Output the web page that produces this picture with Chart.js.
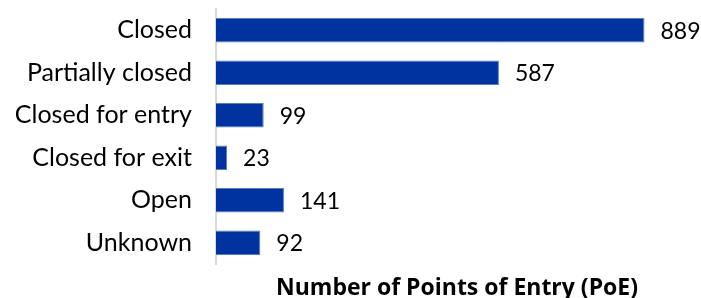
<!DOCTYPE html>
<html>
<head>
<meta charset="utf-8">
<script src="https://cdn.jsdelivr.net/npm/chart.js@4"></script>
<style>
  html, body { margin: 0; padding: 0; background: #fff; }
  #wrap { width: 701px; height: 298px; }
</style>
</head>
<body>
<div id="wrap"><canvas id="myChart"></canvas></div>
<script>
// data
const categories = ['Closed', 'Partially closed', 'Closed for entry', 'Closed for exit', 'Open', 'Unknown'];
const poeCounts = [889, 587, 99, 23, 141, 92];
const axisTitle = 'Number of Points of Entry (PoE)';

// value text next to each bar
const valueLabels = {
    id: 'valueLabels',
    afterDatasetsDraw(chart) {
        const ctx = chart.ctx;
        const meta = chart.getDatasetMeta(0);
        ctx.save();
        ctx.font = "23px Lato, sans-serif";
        ctx.fillStyle = '#000';
        ctx.textBaseline = 'middle';
        ctx.textAlign = 'left';
        meta.data.forEach((bar, i) => {
            ctx.fillText(poeCounts[i], bar.x + 16, bar.y + 1);
        });
        ctx.restore();
    }
};

const config = {
    type: 'bar',
    data: {
        labels: categories,
        datasets: [{
            data: poeCounts,
            backgroundColor: '#0033a0',
            borderColor: '#5a7cc0',
            borderWidth: 1,
            barPercentage: 0.58,
            categoryPercentage: 1,
        }],
    },
    options: {
        indexAxis: 'y',
        responsive: true,
        maintainAspectRatio: false,
        animation: false,
        layout: { padding: { top: 9, right: 3, left: 0, bottom: 0 } },
        plugins: {
            legend: false,
            tooltip: false,
        },
        scales: {
            x: {
                min: 0,
                max: 1000,
                grid: { display: false },
                border: { display: false },
                ticks: { display: false },
                title: {
                    display: true,
                    text: axisTitle,
                    color: '#000',
                    font: { family: "'Open Sans', sans-serif", weight: 'bold', size: 23 },
                    padding: { top: 4, bottom: -4 },
                },
                afterFit(s) { s.height = 34; },
            },
            y: {
                grid: { display: false, drawTicks: false },
                border: { display: true, color: '#d9d9d9', width: 2 },
                ticks: {
                    color: '#000',
                    padding: 24,
                    font: { family: "Lato, sans-serif", size: 25 },
                },
                afterFit(s) {
                    s.width = 216;
                    s.paddingTop = 0;
                    s.paddingBottom = 0;
                },
            },
        },
    },
    plugins: [valueLabels],
};

const myChart = new Chart(document.getElementById('myChart'), config);
</script>
</body>
</html>
